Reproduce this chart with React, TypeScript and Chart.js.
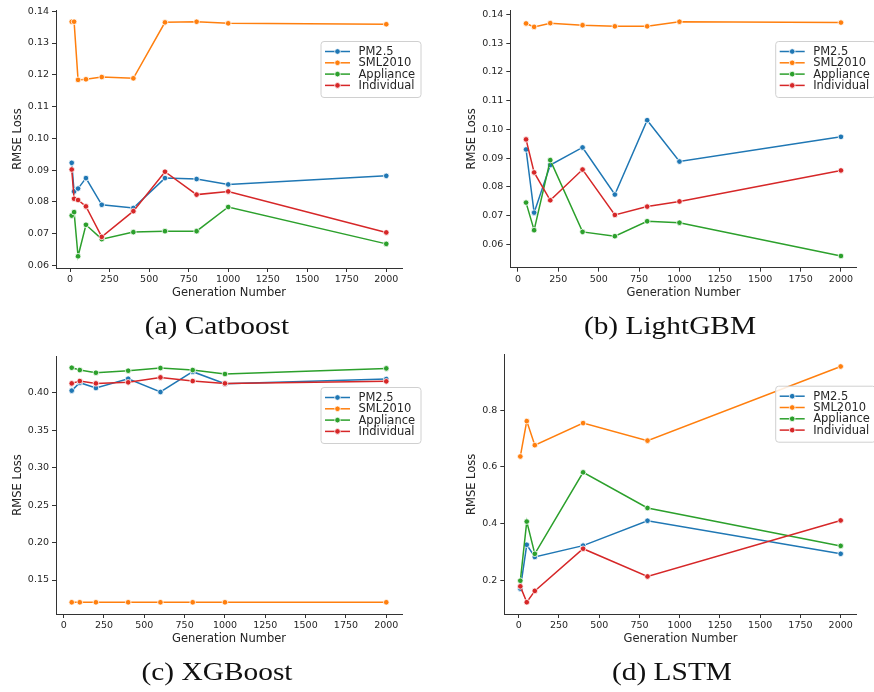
import React, { useEffect, useRef } from "react";
import { Chart, registerables } from "chart.js";

Chart.register(...registerables);

// ---------- data ----------
const seriesNames = ["PM2.5", "SML2010", "Appliance", "Individual"];
const seriesColors = ["#1f77b4", "#ff7f0e", "#2ca02c", "#d62728"];
const xTicks = [0, 250, 500, 750, 1000, 1250, 1500, 1750, 2000];

const catX = [10, 25, 50, 100, 200, 400, 600, 800, 1000, 2000];
const catPM25 = [0.0923, 0.0833, 0.0842, 0.0875, 0.0791, 0.0781, 0.0875, 0.0872, 0.0855, 0.0882];
const catSML = [0.1367, 0.1367, 0.1184, 0.1186, 0.1193, 0.1189, 0.1365, 0.1367, 0.1362, 0.1359];
const catApp = [0.0757, 0.0768, 0.0629, 0.0728, 0.0683, 0.0705, 0.0708, 0.0708, 0.0784, 0.0668];
const catInd = [0.0902, 0.081, 0.0806, 0.0786, 0.069, 0.0771, 0.0895, 0.0823, 0.0833, 0.0704];
const catYTicks = [0.06, 0.07, 0.08, 0.09, 0.1, 0.11, 0.12, 0.13, 0.14];

const lgbX = [50, 100, 200, 400, 600, 800, 1000, 2000];
const lgbPM25 = [0.093, 0.071, 0.0876, 0.0937, 0.0773, 0.1032, 0.0888, 0.0974];
const lgbSML = [0.1369, 0.1357, 0.137, 0.1363, 0.1359, 0.1359, 0.1375, 0.1372];
const lgbApp = [0.0745, 0.0649, 0.0893, 0.0643, 0.0628, 0.068, 0.0675, 0.0559];
const lgbInd = [0.0965, 0.085, 0.0753, 0.086, 0.0702, 0.0731, 0.0749, 0.0857];
const lgbYTicks = [0.06, 0.07, 0.08, 0.09, 0.1, 0.11, 0.12, 0.13, 0.14];

const xgbX = [50, 100, 200, 400, 600, 800, 1000, 2000];
const xgbPM25 = [0.4027, 0.4133, 0.4062, 0.4186, 0.4009, 0.428, 0.412, 0.4182];
const xgbSML = [0.1203, 0.1203, 0.1203, 0.1203, 0.1203, 0.1203, 0.1203, 0.1203];
const xgbApp = [0.4333, 0.4302, 0.4266, 0.4293, 0.4329, 0.4302, 0.4249, 0.4324];
const xgbInd = [0.4124, 0.4155, 0.4124, 0.4138, 0.4204, 0.4155, 0.4124, 0.4151];
const xgbYTicks = [0.15, 0.2, 0.25, 0.3, 0.35, 0.4];

const lstmX = [10, 50, 100, 400, 800, 2000];
const lstmPM25 = [0.17, 0.325, 0.282, 0.322, 0.41, 0.293];
const lstmSML = [0.637, 0.762, 0.677, 0.755, 0.693, 0.955];
const lstmApp = [0.198, 0.407, 0.293, 0.581, 0.455, 0.321];
const lstmInd = [0.178, 0.122, 0.162, 0.311, 0.213, 0.411];
const lstmYTicks = [0.2, 0.4, 0.6, 0.8];

const captions = ["(a) Catboost", "(b) LightGBM", "(c) XGBoost", "(d) LSTM"];

// ---------- layout (page px) ----------
type Panel = {
  xs: number[];
  series: number[][];
  yTicks: number[];
  yDecimals: number;
  canvasLeft: number;
  canvasTop: number;
  canvasW: number;
  canvasH: number;
  plotL: number;
  plotT: number;
  plotR: number;
  plotB: number;
  yTitleX: number;
  xTitleY: number;
};

const TEXT = "#262626";
const FONT = "'DejaVu Sans', sans-serif";
const HALF_LH = (11.5 * 1.2) / 2;

const panels: Panel[] = [
  { xs: catX, series: [catPM25, catSML, catApp, catInd], yTicks: catYTicks, yDecimals: 2,
    canvasLeft: 0, canvasTop: 0, canvasW: 440, canvasH: 346,
    plotL: 56, plotT: 10, plotR: 402, plotB: 268, yTitleX: 18, xTitleY: 293 },
  { xs: lgbX, series: [lgbPM25, lgbSML, lgbApp, lgbInd], yTicks: lgbYTicks, yDecimals: 2,
    canvasLeft: 440, canvasTop: 0, canvasW: 434, canvasH: 346,
    plotL: 510.3, plotT: 10, plotR: 856.7, plotB: 267.7, yTitleX: 472, xTitleY: 293.3 },
  { xs: xgbX, series: [xgbPM25, xgbSML, xgbApp, xgbInd], yTicks: xgbYTicks, yDecimals: 2,
    canvasLeft: 0, canvasTop: 346, canvasW: 440, canvasH: 346,
    plotL: 56, plotT: 356, plotR: 402, plotB: 614, yTitleX: 18, xTitleY: 639 },
  { xs: lstmX, series: [lstmPM25, lstmSML, lstmApp, lstmInd], yTicks: lstmYTicks, yDecimals: 1,
    canvasLeft: 440, canvasTop: 346, canvasW: 434, canvasH: 346,
    plotL: 504.3, plotT: 352, plotR: 856.7, plotB: 614, yTitleX: 472, xTitleY: 639 },
];

function marginRange(vals: number[]) {
  const mn = Math.min(...vals);
  const mx = Math.max(...vals);
  const m = (mx - mn) * 0.05;
  return { min: mn - m, max: mx + m };
}

const legendPlugin = {
  id: "boxLegend",
  afterDraw(chart: any) {
    const { ctx, chartArea } = chart;
    const bx = chartArea.right - 81;
    const by = chartArea.top + 31.5;
    const bw = 100;
    const bh = 56;
    ctx.save();
    ctx.beginPath();
    const r = 3;
    ctx.moveTo(bx + r, by);
    ctx.lineTo(bx + bw - r, by);
    ctx.arcTo(bx + bw, by, bx + bw, by + r, r);
    ctx.lineTo(bx + bw, by + bh - r);
    ctx.arcTo(bx + bw, by + bh, bx + bw - r, by + bh, r);
    ctx.lineTo(bx + r, by + bh);
    ctx.arcTo(bx, by + bh, bx, by + bh - r, r);
    ctx.lineTo(bx, by + r);
    ctx.arcTo(bx, by, bx + r, by, r);
    ctx.closePath();
    ctx.fillStyle = "rgba(255,255,255,0.85)";
    ctx.fill();
    ctx.strokeStyle = "#d0d0d0";
    ctx.lineWidth = 1;
    ctx.stroke();
    ctx.font = `11.5px ${FONT}`;
    ctx.textBaseline = "middle";
    ctx.textAlign = "left";
    seriesNames.forEach((name, i) => {
      const y = by + 10 + i * 11.3;
      ctx.strokeStyle = seriesColors[i];
      ctx.lineWidth = 1.5;
      ctx.beginPath();
      ctx.moveTo(bx + 4, y);
      ctx.lineTo(bx + 29, y);
      ctx.stroke();
      ctx.beginPath();
      ctx.arc(bx + 16.5, y, 2.8, 0, Math.PI * 2);
      ctx.fillStyle = seriesColors[i];
      ctx.fill();
      ctx.strokeStyle = "#ffffff";
      ctx.lineWidth = 0.8;
      ctx.stroke();
      ctx.fillStyle = TEXT;
      ctx.fillText(name, bx + 37.5, y + 0.5);
    });
    ctx.restore();
  },
};

function PanelChart({ p }: { p: Panel }) {
  const ref = useRef<HTMLCanvasElement | null>(null);
  useEffect(() => {
    if (!ref.current) return;
    const padLeft = p.yTitleX - p.canvasLeft - HALF_LH;
    const yWidth = p.plotL - p.canvasLeft - padLeft;
    const padTop = p.plotT - p.canvasTop;
    const padRight = p.canvasLeft + p.canvasW - p.plotR;
    const padBottom = p.canvasH - (p.xTitleY - p.canvasTop) - HALF_LH;
    const xHeight = p.canvasH - padBottom - (p.plotB - p.canvasTop);
    const xr = marginRange(p.xs);
    const yr = marginRange(p.series.flat());
    const chart = new Chart(ref.current, {
      type: "line",
      data: {
        datasets: p.series.map((vals, i) => ({
          label: seriesNames[i],
          data: p.xs.map((x, j) => ({ x, y: vals[j] })),
          borderColor: seriesColors[i],
          backgroundColor: seriesColors[i],
          borderWidth: 1.5,
          pointRadius: 2.8,
          pointHoverRadius: 2.8,
          pointBackgroundColor: seriesColors[i],
          pointBorderColor: "#ffffff",
          pointBorderWidth: 0.8,
          tension: 0,
          fill: false,
          order: 3 - i,
        })),
      },
      options: {
        animation: false,
        responsive: false,
        maintainAspectRatio: false,
        layout: { padding: { left: padLeft, top: padTop, right: padRight, bottom: padBottom } },
        plugins: { legend: { display: false }, tooltip: { enabled: false }, title: { display: false } },
        scales: {
          x: {
            type: "linear",
            min: xr.min,
            max: xr.max,
            afterBuildTicks: (s: any) => { s.ticks = xTicks.map((v) => ({ value: v })); },
            afterFit: (s: any) => { s.height = xHeight; },
            ticks: {
              autoSkip: false, maxRotation: 0, padding: 2,
              color: TEXT, font: { family: FONT, size: 9.5 },
              callback: (v: any) => String(Math.round(Number(v))),
            },
            grid: { display: true, drawOnChartArea: false, drawTicks: true, tickLength: 4, color: "#333333", tickWidth: 1 },
            border: { display: true, color: "#333333", width: 1 },
            title: { display: true, text: "Generation Number", color: TEXT, font: { family: FONT, size: 11.5, lineHeight: 1.2 }, padding: 0 },
          },
          y: {
            type: "linear",
            min: yr.min,
            max: yr.max,
            afterBuildTicks: (s: any) => { s.ticks = p.yTicks.map((v) => ({ value: v })); },
            afterFit: (s: any) => { s.width = yWidth; },
            ticks: {
              autoSkip: false, padding: 3,
              color: TEXT, font: { family: FONT, size: 9.5 },
              callback: (v: any) => Number(v).toFixed(p.yDecimals),
            },
            grid: { display: true, drawOnChartArea: false, drawTicks: true, tickLength: 4, color: "#333333", tickWidth: 1 },
            border: { display: true, color: "#333333", width: 1 },
            title: { display: true, text: "RMSE Loss", color: TEXT, font: { family: FONT, size: 11.5, lineHeight: 1.2 }, padding: 0 },
          },
        },
      },
      plugins: [legendPlugin],
    } as any);
    return () => chart.destroy();
  }, [p]);
  return (
    <canvas
      ref={ref}
      width={p.canvasW}
      height={p.canvasH}
      style={{ position: "absolute", left: p.canvasLeft, top: p.canvasTop, width: p.canvasW, height: p.canvasH }}
    />
  );
}

const captionCenters = [
  { cx: 217, baseline: 335 },
  { cx: 670, baseline: 335 },
  { cx: 217, baseline: 681 },
  { cx: 672, baseline: 681 },
];

export default function App() {
  return (
    <div style={{ position: "absolute", left: 0, top: 0, width: 874, height: 692, background: "#ffffff", overflow: "hidden" }}>
      {panels.map((p, i) => (
        <PanelChart key={i} p={p} />
      ))}
      {captions.map((c, i) => (
        <div
          key={"c" + i}
          style={{
            position: "absolute",
            left: captionCenters[i].cx - 200,
            top: captionCenters[i].baseline - 21.8,
            width: 400,
            textAlign: "center",
            fontFamily: "'Liberation Serif', serif",
            fontSize: 26,
            lineHeight: "26px",
            color: "#111111",
            transform: "scaleX(1.13)",
            whiteSpace: "nowrap",
          }}
        >
          {c}
        </div>
      ))}
    </div>
  );
}
